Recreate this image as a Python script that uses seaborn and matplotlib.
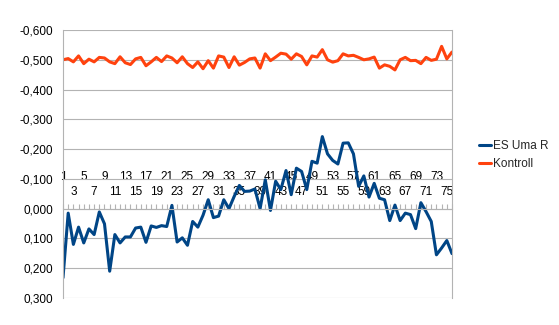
import matplotlib
matplotlib.use("Agg")
import matplotlib.pyplot as plt
from matplotlib.ticker import FuncFormatter, FixedLocator
import seaborn as sns
import pandas as pd

# Measurement index 1..76
categories = list(range(1, 77))

es_uma_r = [
    0.232, 0.015, 0.120, 0.062, 0.115, 0.068, 0.087, 0.011, 0.051, 0.210,
    0.087, 0.115, 0.095, 0.095, 0.065, 0.062, 0.113, 0.058, 0.063, 0.057,
    0.060, -0.011, 0.112, 0.098, 0.123, 0.043, 0.062, 0.022, -0.030, 0.030,
    0.025, -0.030, 0.000, -0.041, -0.078, -0.058, -0.059, -0.066, 0.000, -0.097,
    0.006, -0.092, -0.064, -0.128, -0.047, -0.136, -0.125, -0.064, -0.159, -0.153,
    -0.242, -0.184, -0.162, -0.150, -0.220, -0.221, -0.184, -0.075, -0.110, -0.039,
    -0.085, -0.035, -0.030, 0.040, -0.012, 0.040, 0.015, 0.020, 0.067, -0.020,
    0.010, 0.043, 0.155, 0.132, 0.107, 0.151,
]

kontroll = [
    -0.500, -0.504, -0.493, -0.513, -0.487, -0.502, -0.493, -0.508, -0.506, -0.493,
    -0.487, -0.510, -0.490, -0.484, -0.503, -0.508, -0.480, -0.493, -0.508, -0.494,
    -0.513, -0.506, -0.490, -0.510, -0.487, -0.474, -0.493, -0.470, -0.497, -0.472,
    -0.513, -0.509, -0.474, -0.510, -0.482, -0.491, -0.503, -0.506, -0.472, -0.520,
    -0.497, -0.509, -0.522, -0.519, -0.502, -0.520, -0.511, -0.483, -0.513, -0.509,
    -0.534, -0.500, -0.492, -0.497, -0.520, -0.513, -0.515, -0.508, -0.500, -0.503,
    -0.509, -0.472, -0.483, -0.478, -0.466, -0.500, -0.508, -0.497, -0.498, -0.487,
    -0.508, -0.498, -0.502, -0.545, -0.503, -0.526,
]

series_names = ["ES Uma R", "Kontroll"]
series_colors = ["#004586", "#ff420e"]

y_ticks = [-0.6, -0.5, -0.4, -0.3, -0.2, -0.1, 0.0, 0.1, 0.2, 0.3]

df = pd.DataFrame({
    "idx": categories * 2,
    "value": es_uma_r + kontroll,
    "series": [series_names[0]] * len(categories) + [series_names[1]] * len(categories),
})

sns.set_style("white")
plt.rcParams["font.family"] = ["Liberation Sans", "DejaVu Sans"]
plt.rcParams["font.size"] = 8.5

fig = plt.figure(figsize=(5.59, 3.25), dpi=100)
ax = fig.add_axes([63 / 559, 27 / 325, 389 / 559, 268 / 325])

grey = "#b3b3b3"

sns.lineplot(
    data=df, x="idx", y="value", hue="series",
    palette=dict(zip(series_names, series_colors)),
    linewidth=2.2, errorbar=None, ax=ax, legend=False,
    solid_joinstyle="round", solid_capstyle="round",
)

ax.set_xlim(categories[0], categories[-1])
ax.set_ylim(y_ticks[-1], y_ticks[0])  # inverted value axis

# Value axis
ax.yaxis.set_major_locator(FixedLocator(y_ticks))
ax.yaxis.set_major_formatter(
    FuncFormatter(lambda v, _: f"{abs(v) if abs(v) < 1e-9 else v:.3f}".replace(".", ","))
)
ax.tick_params(axis="y", direction="out", length=4, width=0.8, color=grey,
               labelcolor="black", labelsize=8.5, pad=3)
ax.grid(axis="y", color=grey, linewidth=0.8)
ax.grid(axis="x", visible=False)

# Category axis crossing at zero, labels above it in two staggered rows
ax.spines["top"].set_position(("data", 0))
ax.spines["bottom"].set_visible(False)
for s in ["top", "left", "right"]:
    ax.spines[s].set_color(grey)
    ax.spines[s].set_linewidth(0.8)
ax.xaxis.set_ticks_position("top")
ax.xaxis.set_label_position("top")
labels = [f"{c}" if c % 2 == 1 else "" for c in categories]
ax.set_xticks(categories)
ax.set_xticklabels(labels)
ax.tick_params(axis="x", direction="out", length=3.5, width=0.8, color=grey,
               labelcolor="black", labelsize=8.5, pad=4.5)
# outer row for 1, 5, 9, ...; inner row for 3, 7, 11, ...
for tick, c in zip(ax.xaxis.get_major_ticks(), categories):
    if c % 4 == 1:
        tick.set_pad(4.5 + 10.5)
ax.set_xlabel("")
ax.set_ylabel("")

# Legend
handles = [plt.Line2D([], [], color=c, linewidth=2.2) for c in series_colors]
fig.legend(handles, series_names, loc="upper left",
           bbox_to_anchor=(479 / 559, 1 - 140 / 325), frameon=False,
           handlelength=1.0, handletextpad=0.2, labelspacing=0.5,
           borderpad=0, borderaxespad=0, fontsize=8.5)

fig.savefig("out.png", dpi=100)
